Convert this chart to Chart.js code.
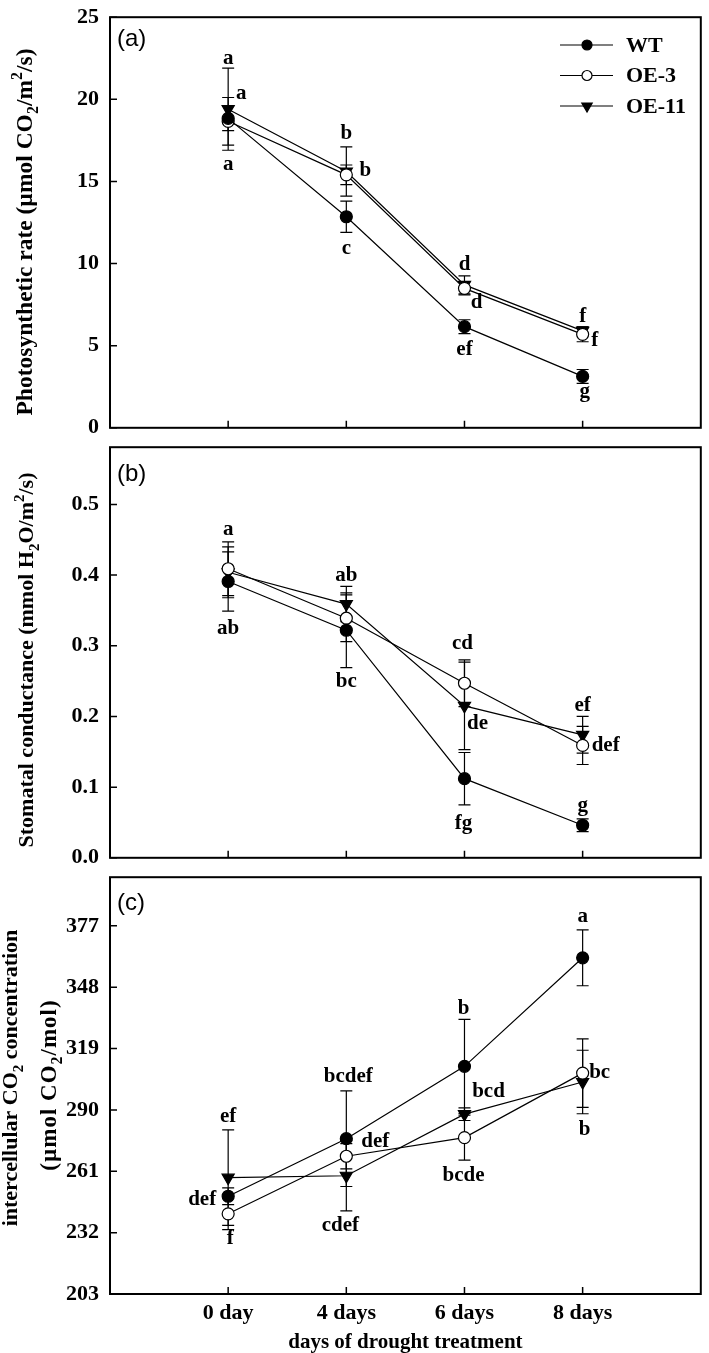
<!DOCTYPE html>
<html>
<head>
<meta charset="utf-8">
<script src="https://cdn.jsdelivr.net/npm/chart.js@4.4.1/dist/chart.umd.min.js"></script>
<style>
  html, body { margin: 0; padding: 0; background: #fff; }
  body { width: 709px; height: 1353px; position: relative; overflow: hidden; }
  .panel { position: absolute; left: 0; width: 709px; }
</style>
</head>
<body>
<div class="panel" style="top:-7px;height:459px"><canvas id="chartA"></canvas></div>
<div class="panel" style="top:423px;height:459px"><canvas id="chartB"></canvas></div>
<div class="panel" style="top:853px;height:500px"><canvas id="chartC"></canvas></div>
<script>
// categories
const days = ['0 day', '4 days', '6 days', '8 days'];
const seriesNames = ['WT', 'OE-3', 'OE-11'];

// (a) photosynthetic rate
const photoWT = [18.84, 12.85, 6.16, 3.13];
const photoWTErr = [0.75, 0.95, 0.42, 0.42];
const photoOE3 = [18.66, 15.4, 8.49, 5.69];
const photoOE3Err = [1.45, 0.6, 0.4, 0.45];
const photoOE11 = [19.4, 15.6, 8.7, 5.9];
const photoOE11Err = [2.5, 1.5, 0.55, 0.25];
const photoTicks = [0, 5, 10, 15, 20, 25];

// (b) stomatal conductance
const condWT = [0.391, 0.322, 0.112, 0.046];
const condWTErr = [0.042, 0.053, 0.037, 0.009];
const condOE3 = [0.409, 0.339, 0.247, 0.159];
const condOE3Err = [0.038, 0.033, 0.033, 0.027];
const condOE11 = [0.404, 0.359, 0.215, 0.174];
const condOE11Err = [0.036, 0.025, 0.062, 0.026];
const condTicks = [0, 0.1, 0.2, 0.3, 0.4, 0.5];

// (c) intercellular CO2
const ciWT = [249.2, 276.4, 310.6, 361.9];
const ciWTErr = [4, 22.6, 22.2, 13.2];
const ciOE3 = [240.9, 268.1, 276.9, 307.4];
const ciOE3Err = [7.5, 6, 10.6, 16.2];
const ciOE11 = [258.0, 258.9, 288.0, 303.2];
const ciOE11Err = [22.6, 16.6, 3, 15];
const ciTicks = [203, 232, 261, 290, 319, 348, 377];

// significance letters: text, category, value, x shift
const lettersA = [
  ['a', 0, 22.15, 0], ['a', 0, 20.0, 13], ['a', 0, 15.7, 0],
  ['b', 1, 17.56, 0], ['b', 1, 15.35, 19], ['c', 1, 10.58, 0],
  ['d', 2, 9.59, 0], ['d', 2, 7.27, 12], ['ef', 2, 4.42, 0],
  ['f', 3, 6.45, 0], ['f', 3, 5.0, 12], ['g', 3, 1.86, 2]
];
const lettersB = [
  ['a', 0, 0.457, 0], ['ab', 0, 0.316, 0],
  ['ab', 1, 0.391, 0], ['bc', 1, 0.241, 0],
  ['cd', 2, 0.296, -2], ['de', 2, 0.182, 13], ['fg', 2, 0.041, -1],
  ['ef', 3, 0.208, 0], ['def', 3, 0.151, 23], ['g', 3, 0.066, 0]
];
const lettersC = [
  ['ef', 0, 284.3, 0], ['def', 0, 245.0, -26], ['f', 0, 226.6, 2],
  ['bcdef', 1, 303.2, 2], ['def', 1, 272.3, 29], ['cdef', 1, 232.6, -6],
  ['b', 2, 335.5, -1], ['bcd', 2, 296.3, 24], ['bcde', 2, 256.6, -1],
  ['a', 3, 379.0, 0], ['bc', 3, 305.1, 17], ['b', 3, 278.3, 2]
];

const SERIF = '"Liberation Serif", "Times New Roman", serif';
const SANS = '"Liberation Sans", Arial, sans-serif';

const markers = [
  { pointStyle: 'circle', rotation: 0, fill: '#000', radius: 6 },
  { pointStyle: 'circle', rotation: 0, fill: '#fff', radius: 6 },
  { pointStyle: 'triangle', rotation: 180, fill: '#000', radius: 7 }
];

function series(i, vals, errs) {
  const m = markers[i];
  return {
    label: seriesNames[i],
    data: vals.map((v, k) => ({ x: k, y: v })),
    err: errs,
    borderColor: '#000',
    borderWidth: 1.2,
    fill: false,
    tension: 0,
    pointStyle: m.pointStyle,
    rotation: m.rotation,
    pointRadius: m.radius,
    pointBackgroundColor: m.fill,
    pointBorderColor: '#000',
    pointBorderWidth: 1.2
  };
}

// draws text with sub/superscripts centred on x
function drawRich(ctx, segs, x, y, size, ls) {
  const small = Math.round(size * 0.7);
  ctx.letterSpacing = (ls || 0) + 'px';
  let w = 0;
  segs.forEach(s => {
    ctx.font = 'bold ' + (s.s ? small : size) + 'px ' + SERIF;
    s.w = ctx.measureText(s.t).width;
    w += s.w;
  });
  let cx = x - w / 2;
  ctx.textAlign = 'left';
  ctx.textBaseline = 'alphabetic';
  segs.forEach(s => {
    ctx.font = 'bold ' + (s.s ? small : size) + 'px ' + SERIF;
    const dy = s.s === 'sub' ? size * 0.25 : s.s === 'sup' ? -size * 0.42 : 0;
    ctx.fillText(s.t, cx, y + dy);
    cx += s.w;
  });
  ctx.letterSpacing = '0px';
}

const deco = {
  id: 'deco',
  beforeDatasetsDraw(chart) {
    const ctx = chart.ctx, ys = chart.scales.y;
    ctx.save();
    ctx.strokeStyle = '#000';
    ctx.lineWidth = 1.2;
    chart.data.datasets.forEach((ds, i) => {
      const meta = chart.getDatasetMeta(i);
      ds.data.forEach((p, k) => {
        const x = meta.data[k].x;
        const t = ys.getPixelForValue(p.y + ds.err[k]);
        const b = ys.getPixelForValue(p.y - ds.err[k]);
        ctx.beginPath();
        ctx.moveTo(x, t); ctx.lineTo(x, b);
        ctx.moveTo(x - 6, t); ctx.lineTo(x + 6, t);
        ctx.moveTo(x - 6, b); ctx.lineTo(x + 6, b);
        ctx.stroke();
      });
    });
    ctx.restore();
  },
  afterDraw(chart, args, o) {
    const ctx = chart.ctx, a = chart.chartArea;
    const xs = chart.scales.x, ys = chart.scales.y;
    ctx.save();
    ctx.strokeStyle = '#000';
    ctx.fillStyle = '#000';
    // frame
    ctx.lineWidth = 2;
    ctx.strokeRect(a.left, a.top, a.right - a.left, a.bottom - a.top);
    // inward ticks
    ctx.lineWidth = 1.5;
    ctx.beginPath();
    ys.ticks.forEach(t => {
      const py = ys.getPixelForValue(t.value);
      ctx.moveTo(a.left, py); ctx.lineTo(a.left + 7, py);
    });
    xs.ticks.forEach(t => {
      const px = xs.getPixelForValue(t.value);
      ctx.moveTo(px, a.bottom); ctx.lineTo(px, a.bottom - 7);
    });
    ctx.stroke();
    // letters
    ctx.font = 'bold 21px ' + SERIF;
    ctx.textAlign = 'center';
    ctx.textBaseline = 'alphabetic';
    o.letters.forEach(l => {
      ctx.fillText(l[0], xs.getPixelForValue(l[1]) + l[3], ys.getPixelForValue(l[2]));
    });
    // panel tag
    ctx.font = '24px ' + SANS;
    ctx.textAlign = 'left';
    ctx.fillText(o.tag, a.left + 7, a.top + o.tagY);
    // y titles
    o.titles.forEach(tl => {
      ctx.save();
      ctx.translate(tl.x, tl.y);
      ctx.rotate(-Math.PI / 2);
      drawRich(ctx, tl.segs, 0, 0, tl.size, tl.ls);
      ctx.restore();
    });
    // legend
    if (o.legend) {
      chart.data.datasets.forEach((ds, i) => {
        const y = o.legend.y + i * 30.5;
        ctx.lineWidth = 1.2;
        ctx.beginPath();
        ctx.moveTo(o.legend.x - 27, y); ctx.lineTo(o.legend.x + 26, y);
        ctx.stroke();
        ctx.fillStyle = markers[i].fill;
        Chart.helpers.drawPoint(ctx, {
          pointStyle: markers[i].pointStyle, rotation: markers[i].rotation,
          radius: markers[i].radius - 1, borderWidth: 1.2
        }, o.legend.x, y);
        ctx.fillStyle = '#000';
        ctx.font = 'bold 22px ' + SERIF;
        ctx.textBaseline = 'middle';
        ctx.textAlign = 'left';
        ctx.fillText(ds.label, o.legend.x + 39, y + 1);
      });
    }
    ctx.restore();
  }
};

function makePanel(id, cfg) {
  return new Chart(document.getElementById(id), {
    type: 'line',
    data: { datasets: cfg.datasets },
    options: {
      responsive: true,
      maintainAspectRatio: false,
      animation: false,
      layout: { padding: { top: 14, right: 3, left: 0, bottom: 0 } },
      plugins: {
        legend: { display: false },
        tooltip: { enabled: false },
        deco: cfg.deco
      },
      scales: {
        x: {
          type: 'linear', min: -1, max: 4,
          afterBuildTicks: s => { s.ticks = [0, 1, 2, 3].map(v => ({ value: v })); },
          afterFit: s => { s.height = cfg.xHeight; },
          grid: { display: false, drawTicks: false },
          border: { display: false },
          ticks: {
            display: cfg.showX, autoSkip: false, maxRotation: 0, padding: 6,
            color: '#000', font: { family: SERIF, size: 22, weight: 'bold' },
            callback: v => days[v]
          },
          title: {
            display: cfg.showX, text: 'days of drought treatment', color: '#000',
            font: { family: SERIF, size: 21, weight: 'bold', lineHeight: 1 },
            padding: { top: 0, bottom: 0 }
          }
        },
        y: {
          min: cfg.min, max: cfg.max,
          afterBuildTicks: s => { s.ticks = cfg.ticks.map(v => ({ value: v })); },
          afterFit: s => { s.width = 110; },
          grid: { display: false, drawTicks: false },
          border: { display: false },
          ticks: {
            padding: 11, color: '#000',
            font: { family: SERIF, size: 22, weight: 'bold' },
            callback: cfg.fmt
          }
        }
      }
    },
    plugins: [deco]
  });
}

makePanel('chartA', {
  datasets: [series(0, photoWT, photoWTErr), series(1, photoOE3, photoOE3Err), series(2, photoOE11, photoOE11Err)],
  min: 0, max: 25, ticks: photoTicks, fmt: v => String(v), xHeight: 15, showX: false,
  deco: {
    letters: lettersA, tag: '(a)', tagY: 29,
    legend: { x: 587, y: 52 },
    titles: [{ x: 32, y: 239, size: 23.5, segs: [
      { t: 'Photosynthetic rate (\u00b5mol CO' }, { t: '2', s: 'sub' }, { t: '/m' }, { t: '2', s: 'sup' }, { t: '/s)' }
    ] }]
  }
});

makePanel('chartB', {
  datasets: [series(0, condWT, condWTErr), series(1, condOE3, condOE3Err), series(2, condOE11, condOE11Err)],
  min: 0, max: 0.581, ticks: condTicks, fmt: v => v.toFixed(1), xHeight: 15, showX: false,
  deco: {
    letters: lettersB, tag: '(b)', tagY: 34,
    titles: [{ x: 33, y: 237, size: 22, segs: [
      { t: 'Stomatal conductance (mmol H' }, { t: '2', s: 'sub' }, { t: 'O/m' }, { t: '2', s: 'sup' }, { t: '/s)' }
    ] }]
  }
});

makePanel('chartC', {
  datasets: [series(0, ciWT, ciWTErr), series(1, ciOE3, ciOE3Err), series(2, ciOE11, ciOE11Err)],
  min: 203, max: 400, ticks: ciTicks, fmt: v => String(v), xHeight: 59, showX: true,
  deco: {
    letters: lettersC, tag: '(c)', tagY: 33,
    titles: [
      { x: 17, y: 225, size: 22, segs: [{ t: 'intercellular CO' }, { t: '2', s: 'sub' }, { t: ' concentration' }] },
      { x: 56, y: 232, size: 23, ls: 1, segs: [{ t: '(\u00b5mol CO' }, { t: '2', s: 'sub' }, { t: '/mol)' }] }
    ]
  }
});
</script>
</body>
</html>
